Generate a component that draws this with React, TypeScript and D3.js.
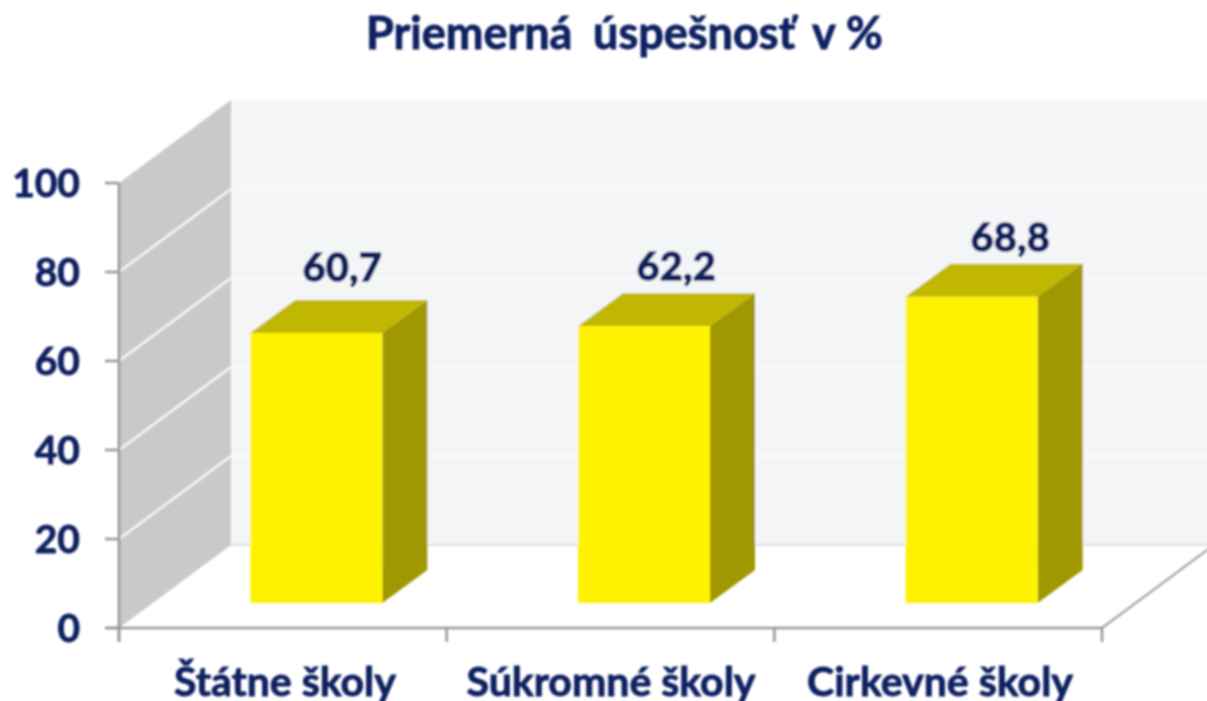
import React from "react";
import * as d3 from "d3";

const TITLE_WORDS = ["Priemerná", "úspešnosť", "v", "%"];
const categories = ["Štátne školy", "Súkromné školy", "Cirkevné školy"];
const values = [60.7, 62.2, 68.8];
const valueLabels = ["60,7", "62,2", "68,8"];
const yTicks = [0, 20, 40, 60, 80, 100];

// layout only
const titleWordX = [366, 593, 812, 846];
const categoryLabelCenters = [285, 611, 940];
const valueLabelCenters = [342.5, 676.5, 1010.5];
const valueLabelBaselines = [281, 280, 251];

const W = 1207, H = 701;
const NAVY = "#0c2060";
const FONT = "Lato, 'Open Sans', sans-serif";

const y = d3.scaleLinear().domain([0, 100]).range([628, 183]);
const x = d3.scaleBand<string>().domain(categories).range([119, 1102]);
const boundaries = [119, ...categories.map((c) => (x(c) as number) + x.bandwidth())];

// 3D projection offsets
const WALL_DX = 112, WALL_DY = 83;
const BAR_OFF_DX = 33.5, BAR_OFF_DY = 25;
const BAR_DX = 45, BAR_DY = 33;
const BAR_W = 132;

const pts = (p: [number, number][]) => p.map((q) => q.join(",")).join(" ");

export default function App() {
  const x0 = 119, x1 = 1102;
  const yBase = y(0);
  return (
    <svg width={W} height={H} viewBox={`0 0 ${W} ${H}`} style={{ position: "absolute", left: 0, top: 0, background: "#fff" }}>
      <defs>
        <filter id="soft" x="-5%" y="-5%" width="110%" height="110%">
          <feGaussianBlur stdDeviation="0.8" />
        </filter>
      </defs>
      <g filter="url(#soft)">
        {/* back wall */}
        <rect x={x0 + WALL_DX} y={y(100) - WALL_DY} width={W - x0 - WALL_DX + 5} height={yBase - y(100)} fill="#f4f5f7" />
        {/* side wall */}
        <polygon
          points={pts([[x0, y(100)], [x0 + WALL_DX, y(100) - WALL_DY], [x0 + WALL_DX, yBase - WALL_DY], [x0, yBase]])}
          fill="#c8c9cb"
        />
        {/* grid lines */}
        {yTicks.slice(1, -1).map((t) => (
          <g key={t}>
            <line x1={x0} y1={y(t)} x2={x0 + WALL_DX} y2={y(t) - WALL_DY} stroke="#f6f6f7" strokeWidth={2.4} />
            <line x1={x0 + WALL_DX} y1={y(t) - WALL_DY} x2={W + 5} y2={y(t) - WALL_DY} stroke="#fbfbfc" strokeWidth={2} />
          </g>
        ))}
        {/* floor edges */}
        <line x1={x0 + WALL_DX} x2={W + 5} y1={yBase - WALL_DY} y2={yBase - WALL_DY} stroke="#dfe0e2" strokeWidth={2} />
        <line x1={x1} y1={yBase} x2={x1 + WALL_DX} y2={yBase - WALL_DY} stroke="#a6a6a8" strokeWidth={2.2} />

        {/* axes */}
        <line x1={x0} x2={x0} y1={y(100)} y2={yBase + 14} stroke="#98989a" strokeWidth={2.6} />
        <line x1={x0 - 14} x2={x1} y1={yBase} y2={yBase} stroke="#98989a" strokeWidth={2.6} />
        {yTicks.map((t) => (
          <line key={t} x1={x0 - 14} x2={x0} y1={y(t)} y2={y(t)} stroke="#98989a" strokeWidth={2.6} />
        ))}
        {boundaries.map((b) => (
          <line key={b} x1={b} x2={b} y1={yBase} y2={yBase + 14} stroke="#98989a" strokeWidth={2.6} />
        ))}

        {/* bars */}
        {categories.map((c, i) => {
          const left = (x(c) as number) + x.bandwidth() / 2 - BAR_W / 2 + BAR_OFF_DX;
          const right = left + BAR_W;
          const bottom = yBase - BAR_OFF_DY;
          const top = bottom - (yBase - y(values[i]));
          return (
            <g key={c}>
              <polygon
                points={pts([[left, top], [left + BAR_DX, top - BAR_DY], [right + BAR_DX, top - BAR_DY], [right, top]])}
                fill="#c1b700"
              />
              <polygon
                points={pts([[right, top], [right + BAR_DX, top - BAR_DY], [right + BAR_DX, bottom - BAR_DY], [right, bottom]])}
                fill="#a09800"
              />
              <rect x={left} y={top} width={BAR_W} height={bottom - top} fill="#fff200" />
            </g>
          );
        })}

        {/* text */}
        <g fontFamily={FONT} fontWeight={700} fill={NAVY} stroke={NAVY} strokeWidth={0.8}>
          <text y={49} fontSize={45}>
            {TITLE_WORDS.map((w, i) => (
              <tspan key={w} x={titleWordX[i]}>{w}{i < TITLE_WORDS.length - 1 ? " " : ""}</tspan>
            ))}
          </text>
          {yTicks.map((t) => (
            <text key={t} x={80} y={y(t) + 14} fontSize={39} textAnchor="end">{t}</text>
          ))}
          {valueLabels.map((v, i) => (
            <text key={v} x={valueLabelCenters[i]} y={valueLabelBaselines[i]} fontSize={39} letterSpacing={0.6} textAnchor="middle" strokeWidth={1.6}>{v}</text>
          ))}
          {categories.map((c, i) => (
            <text key={c} x={categoryLabelCenters[i]} y={696} fontSize={41} textAnchor="middle">{c}</text>
          ))}
        </g>
      </g>
    </svg>
  );
}
